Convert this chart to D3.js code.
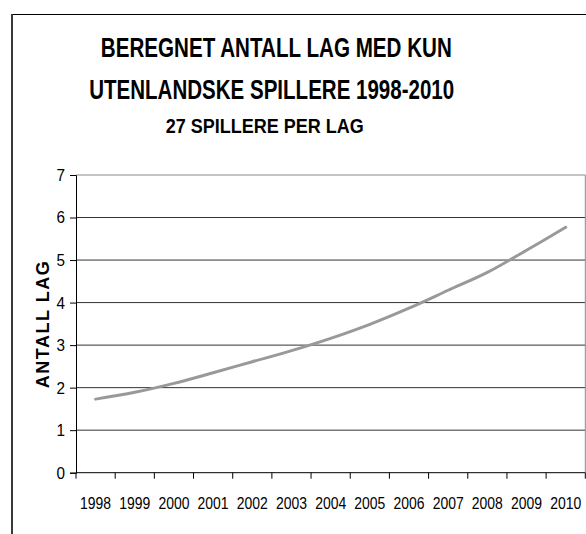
<!DOCTYPE html>
<html><head><meta charset="utf-8">
<script src="https://cdn.jsdelivr.net/npm/d3@7"></script>
<style>body{margin:0;background:#fff;}svg{display:block;}</style>
</head><body>
<script>
const years = ["1998","1999","2000","2001","2002","2003","2004","2005","2006","2007","2008","2009","2010"];
const values = [1.73,1.89,2.10,2.35,2.61,2.87,3.16,3.49,3.87,4.29,4.71,5.23,5.77];
const yTicks = [0,1,2,3,4,5,6,7];
const titleLines = ["BEREGNET ANTALL LAG MED KUN","UTENLANDSKE SPILLERE 1998-2010"];
const subtitle = "27 SPILLERE PER LAG";
const yTitle = "ANTALL LAG";

const W = 586, H = 534;
const svg = d3.select("body").append("svg").attr("width", W).attr("height", H);
const FONT = "'Liberation Sans',Arial,sans-serif";

// frame
svg.append("line").attr("x1",12).attr("x2",W).attr("y1",14.5).attr("y2",14.5).attr("stroke","#000").attr("stroke-width",1);
svg.append("line").attr("x1",12).attr("x2",12).attr("y1",14).attr("y2",H).attr("stroke","#3a3a3a").attr("stroke-width",2);

const x0 = 76, x1 = 585.3, y0 = 472.7, y1 = 175;
const x = d3.scaleBand().domain(years).range([x0, x1]);
const y = d3.scaleLinear().domain([0,7]).range([y0, y1]);

// gridlines
svg.append("g").selectAll("line").data(yTicks.filter(d=>d>0 && d<7)).join("line")
  .attr("x1", x0).attr("x2", x1).attr("y1", d=>y(d)).attr("y2", d=>y(d))
  .attr("stroke","#333").attr("stroke-width",1);
// plot border top & right
svg.append("line").attr("x1",x0).attr("x2",x1).attr("y1",y(7)).attr("y2",y(7)).attr("stroke","#8a8a8a");
svg.append("line").attr("x1",x1).attr("x2",x1).attr("y1",y(7)).attr("y2",y(0)).attr("stroke","#8a8a8a");

// y axis
const yAxis = d3.axisLeft(y).tickValues(yTicks).tickSize(6).tickPadding(5).tickFormat(d3.format("d"));
const gy = svg.append("g").attr("transform",`translate(${x0},0)`).call(yAxis);
gy.select(".domain").attr("stroke","#000");
gy.selectAll(".tick line").attr("stroke","#000");
gy.selectAll(".tick text").attr("font-family",FONT).attr("font-size",17).attr("fill","#000")
  .attr("textLength",8.5).attr("lengthAdjust","spacingAndGlyphs");

// x axis: ticks at band boundaries
const bounds = years.map(d=>x(d)).concat([x1]);
const gx = svg.append("g");
gx.append("line").attr("x1",x0).attr("x2",x1).attr("y1",y0).attr("y2",y0).attr("stroke","#000");
gx.selectAll("line.t").data(bounds).join("line").attr("class","t")
  .attr("x1",d=>d).attr("x2",d=>d).attr("y1",y0).attr("y2",y0+6).attr("stroke","#000");
gx.selectAll("text").data(years).join("text")
  .attr("x", d=>x(d)+x.bandwidth()/2).attr("y", 508.5)
  .attr("text-anchor","middle").attr("font-family",FONT).attr("font-size",16).attr("fill","#000")
  .attr("textLength",31).attr("lengthAdjust","spacingAndGlyphs")
  .text(d=>d);

// line
const line = d3.line().x((d,i)=>x(years[i])+x.bandwidth()/2).y(d=>y(d)).curve(d3.curveCatmullRom);
svg.append("path").datum(values).attr("d",line).attr("fill","none")
  .attr("stroke","#999").attr("stroke-width",3).attr("stroke-linecap","round");

// titles
const titleData = [
  {t:titleLines[0], cx:276.3, y:57, w:351, fs:27},
  {t:titleLines[1], cx:271.7, y:99.3, w:365, fs:27},
  {t:subtitle, cx:264.8, y:132.5, w:198, fs:20.5}
];
svg.selectAll("text.title").data(titleData).join("text").attr("class","title")
  .attr("x",d=>d.cx).attr("y",d=>d.y).attr("text-anchor","middle")
  .attr("font-family",FONT).attr("font-weight","bold").attr("font-size",d=>d.fs)
  .attr("textLength",d=>d.w).attr("lengthAdjust","spacingAndGlyphs")
  .text(d=>d.t);

// y title
svg.append("text").attr("transform","translate(49,324) rotate(-90)")
  .attr("text-anchor","middle").attr("font-family",FONT)
  .attr("font-weight","bold").attr("font-size",18).attr("letter-spacing",1.5)
  .text(yTitle);
</script>
</body></html>
